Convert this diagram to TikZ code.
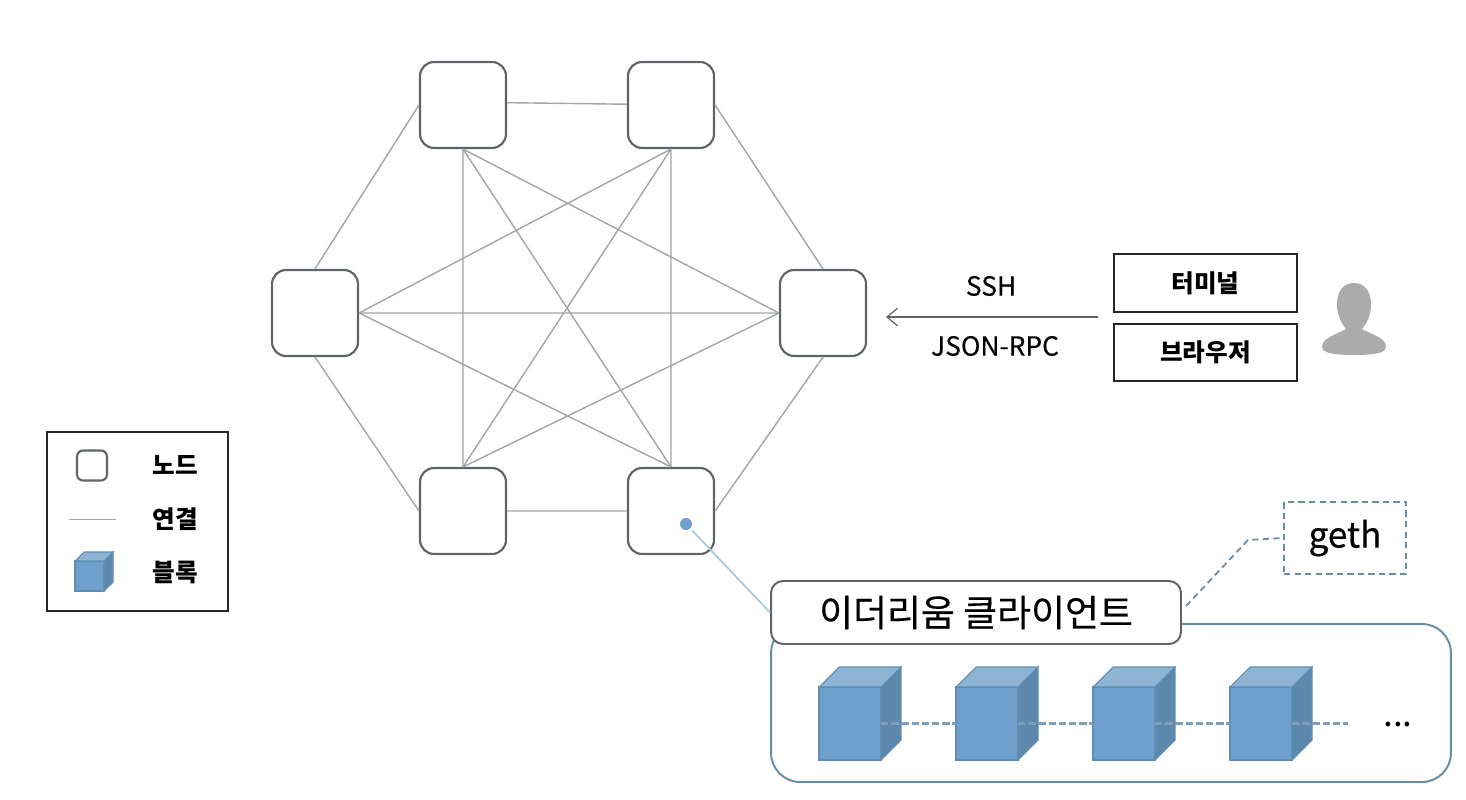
\documentclass[tikz,border=0pt]{standalone}
\usepackage{fontspec}
\usetikzlibrary{arrows.meta}
\setmainfont{Noto Sans CJK KR}
\newfontfamily\medfont[FakeBold=0.35]{Noto Sans CJK KR}
\definecolor{nodeline}{HTML}{5E6468}
\definecolor{linkline}{HTML}{A2A6A4}
\definecolor{cubeline}{HTML}{5F8DB5}
\definecolor{cubefront}{HTML}{6F9FCC}
\definecolor{cubetop}{HTML}{8FB3D3}
\definecolor{cubeside}{HTML}{5C88AC}
\definecolor{chainline}{HTML}{7F9FB8}
\definecolor{boxline}{HTML}{668CA8}
\definecolor{tapline}{HTML}{A9CADB}
\definecolor{persongray}{HTML}{ABABAB}
\tikzset{
  peer/.style={draw=nodeline,line width=1.2pt,fill=white,rounded corners=0.28cm,minimum size=1.72cm,inner sep=0pt},
  link/.style={draw=linkline,line width=0.8pt},
  toolbox/.style={draw=black!85,line width=1pt,minimum width=3.66cm,minimum height=1.15cm,inner sep=0pt,font=\fontsize{14}{16}\selectfont\bfseries},
  legendtext/.style={font=\fontsize{14}{16}\selectfont\bfseries,inner sep=0pt},
  proto/.style={font=\fontsize{15}{18}\selectfont\medfont,inner sep=0pt},
  pics/blockcube/.style args={#1/#2/#3/#4}{code={
    \filldraw[draw=cubeline,fill=cubefront,line width=0.6pt] (0,0) rectangle (#1,#2);
    \filldraw[draw=cubeline,fill=cubetop,line width=0.6pt] (0,0) -- (#3,-#4) -- (#1+#3,-#4) -- (#1,0) -- cycle;
    \filldraw[draw=cubeline,fill=cubeside,line width=0.6pt] (#1,0) -- (#1+#3,-#4) -- (#1+#3,#2-#4) -- (#1,#2) -- cycle;
    \coordinate (-w) at (0,#2/2);
    \coordinate (-e) at (#1,#2/2);
  }}
}
\begin{document}
\begin{tikzpicture}[x=0.02cm,y=-0.02cm]
\useasboundingbox (0,0) rectangle (1466,800);
% network
\node[peer] (n1) at (463,105) {};
\node[peer] (n2) at (671,105) {};
\node[peer] (n3) at (315,313) {};
\node[peer] (n4) at (823,313) {};
\node[peer] (n5) at (463,511) {};
\node[peer] (n6) at (671,511) {};
\draw[link] (n1.3)--(n2.179) (n5.east)--(n6.west);
\draw[link] (n1.west)--(n3.north) (n2.east)--(n4.north) (n3.south)--(n5.west) (n4.south)--(n6.east);
\draw[link] (n1.south)--(n5.north) (n1.south)--(n6.north) (n1.south)--(n4.west);
\draw[link] (n2.south)--(n6.north) (n2.south)--(n5.north) (n2.south)--(n3.east);
\draw[link] (n3.east)--(n4.west) (n3.east)--(n6.north) (n4.west)--(n5.north);
% access
\node[toolbox] (term) at (1205.5,283) {터미널};
\node[toolbox] (brow) at (1205.5,352.5) {브라우저};
\coordinate (rpcend) at (1098,317);
\coordinate (rpctip) at (886,317);
\draw[draw=nodeline,line width=0.7pt,-{Straight Barb[length=6pt,width=10pt]}] (rpcend)--(rpctip);
\node[proto] (ssh) at (991,286) {SSH};
\node[proto] (rpc) at (995,346) {JSON-RPC};
\fill[persongray] (1354,283) .. controls (1343,283) and (1337,292) .. (1337,304) .. controls (1337,315) and (1341,323) .. (1346,329)
  .. controls (1335,335) and (1322,338) .. (1322,347) .. controls (1322,352) and (1330,355) .. (1354,355)
  .. controls (1378,355) and (1386,352) .. (1386,347) .. controls (1386,338) and (1373,335) .. (1362,329)
  .. controls (1367,323) and (1371,315) .. (1371,304) .. controls (1371,292) and (1365,283) .. (1354,283) -- cycle;
% client
\node[draw=boxline,line width=1.1pt,rounded corners=0.58cm,minimum width=13.6cm,minimum height=3.16cm,inner sep=0pt] (chainbox) at (1111,703) {};
\node[draw=nodeline,line width=1.1pt,fill=white,rounded corners=0.24cm,minimum width=8.2cm,minimum height=1.26cm,inner sep=0pt,font=\fontsize{21}{25}\selectfont\medfont] (client) at (976,612.5) {이더리움 클라이언트};
\node[draw=boxline,dash pattern=on 3.6pt off 2.4pt,line width=1pt,minimum width=2.44cm,minimum height=1.44cm,inner sep=0pt,font=\fontsize{20}{24}\selectfont\medfont] (geth) at (1345,538) {\raisebox{-1pt}{geth}};
\fill[cubefront] (686,524) circle (6);
\node[inner sep=0pt,minimum size=0.24cm] (tap) at (686,524) {};
\draw[draw=tapline,line width=1pt] (tap)--(client.west);
\coordinate (gethfoot) at (1186,606);
\coordinate (gethbend) at (1248,540);
\draw[draw=boxline,dash pattern=on 3.6pt off 2.4pt,line width=1pt] (gethfoot)--(gethbend)--(geth.west);
\foreach \i/\xpos in {1/819,2/956,3/1093,4/1230}
  \pic (b\i) at (\xpos,687) {blockcube={62/73/20/20}};
\coordinate (chainend) at (1348,723.5);
\draw[draw=chainline,dash pattern=on 4.2pt off 1.6pt,line width=1.4pt] (b1-e)--(b2-w) (b2-e)--(b3-w) (b3-e)--(b4-w) (b4-e)--(chainend);
\node[font=\fontsize{20}{24}\selectfont,inner sep=0pt,anchor=base] (more) at (1398,726) {...};
% legend
\node[draw=black!85,line width=1pt,minimum width=3.62cm,minimum height=3.58cm,inner sep=0pt] (legend) at (137.5,521.5) {};
\node[peer,minimum size=0.6cm,rounded corners=0.12cm] (legnode) at (92,465.5) {};
\coordinate (legstart) at (69,519.5);
\coordinate (legend2) at (116,519.5);
\draw[link] (legstart)--(legend2);
\pic (legcube) at (75,561) {blockcube={29/30/9/9}};
\node[legendtext] (lab1) at (175,465) {노드};
\node[legendtext] (lab2) at (175,519) {연결};
\node[legendtext] (lab3) at (175,572) {블록};
\end{tikzpicture}
\end{document}
